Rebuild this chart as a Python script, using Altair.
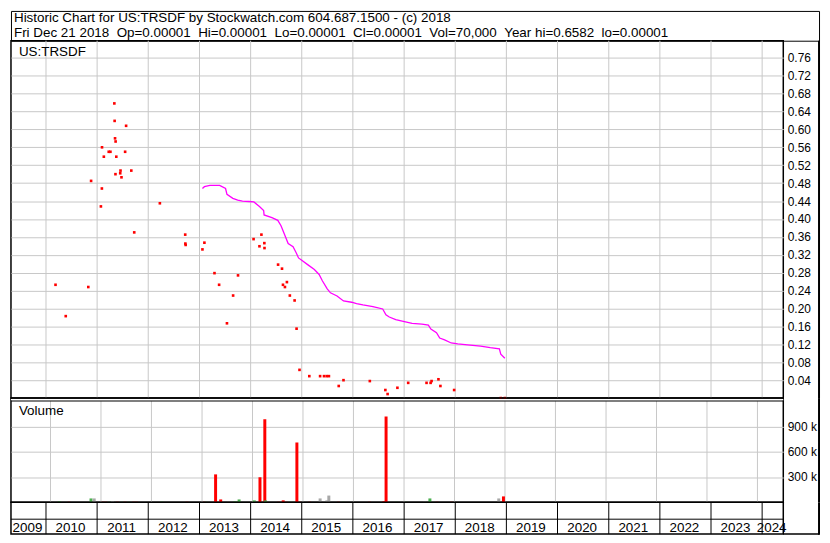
import altair as alt
import pandas as pd
from datetime import date

# ---------------- data ----------------
header_line1 = "Historic Chart for US:TRSDF by Stockwatch.com 604.687.1500 - (c) 2018"
header_fields = ["Fri Dec 21 2018", "Op=0.00001", "Hi=0.00001", "Lo=0.00001",
                 "Cl=0.00001", "Vol=70,000", "Year hi=0.6582", "lo=0.00001"]
symbol_label = "US:TRSDF"
volume_label = "Volume"

point_dates = ["2010-03-10", "2010-05-22", "2010-10-30", "2010-11-19", "2011-01-28", "2011-02-04",
               "2011-02-05", "2011-02-18", "2011-03-25", "2011-04-06", "2011-05-04", "2011-05-06",
               "2011-05-09", "2011-05-13", "2011-05-12", "2011-05-18", "2011-06-17", "2011-06-15",
               "2011-06-24", "2011-07-20", "2011-07-27", "2011-09-02", "2011-09-23", "2012-03-24",
               "2012-09-21", "2012-09-22", "2012-09-24", "2013-01-22", "2013-02-05", "2013-04-18",
               "2013-05-21", "2013-07-16", "2013-08-29", "2013-10-03", "2014-01-22", "2014-03-05",
               "2014-03-19", "2014-04-09", "2014-04-10", "2014-07-16", "2014-08-13", "2014-08-20",
               "2014-09-03", "2014-09-17", "2014-10-08", "2014-11-11", "2014-11-25", "2014-12-16",
               "2015-02-24", "2015-05-12", "2015-06-09", "2015-06-28", "2015-07-14", "2015-09-22",
               "2015-10-26", "2016-05-01", "2016-08-20", "2016-09-05", "2016-11-14", "2017-01-30",
               "2017-06-10", "2017-07-09", "2017-07-16", "2017-09-03", "2017-09-17", "2017-12-24",
               "2018-11-22", "2018-12-21"]
point_prices = [0.253, 0.183, 0.248, 0.485, 0.428, 0.468, 0.560, 0.539, 0.550, 0.550, 0.658, 0.619,
                0.580, 0.573, 0.500, 0.539, 0.508, 0.502, 0.493, 0.550, 0.608, 0.508, 0.370, 0.435,
                0.365, 0.345, 0.342, 0.332, 0.347, 0.279, 0.253, 0.167, 0.229, 0.274, 0.355, 0.339,
                0.365, 0.346, 0.335, 0.298, 0.289, 0.253, 0.248, 0.259, 0.229, 0.218, 0.155, 0.063,
                0.049, 0.049, 0.049, 0.049, 0.049, 0.027, 0.040, 0.038, 0.018, 0.009, 0.023, 0.034,
                0.034, 0.034, 0.038, 0.042, 0.027, 0.018, 0.00001, 0.00001]

ma_dates = ["2013-01-22", "2013-02-05", "2013-03-16", "2013-05-25", "2013-07-06", "2013-07-16",
            "2013-08-27", "2013-10-01", "2013-11-04", "2013-12-20", "2014-01-24", "2014-03-05",
            "2014-04-04", "2014-04-07", "2014-06-02", "2014-07-14", "2014-08-06", "2014-08-29",
            "2014-09-26", "2014-10-31", "2014-11-23", "2014-12-09", "2015-01-08", "2015-02-12",
            "2015-04-01", "2015-05-05", "2015-05-28", "2015-07-02", "2015-07-25", "2015-09-10",
            "2015-10-26", "2015-12-23", "2016-01-27", "2016-03-13", "2016-05-23", "2016-08-01",
            "2016-08-24", "2016-09-17", "2016-11-02", "2016-12-18", "2017-02-27", "2017-05-08",
            "2017-06-23", "2017-07-11", "2017-08-20", "2017-09-12", "2017-10-17", "2017-12-03",
            "2018-01-19", "2018-03-30", "2018-07-01", "2018-09-08", "2018-11-12", "2018-11-22",
            "2018-12-21"]
ma_values = [0.468, 0.472, 0.475, 0.475, 0.468, 0.455, 0.446, 0.442, 0.440, 0.439, 0.438, 0.428,
             0.419, 0.409, 0.403, 0.397, 0.385, 0.367, 0.345, 0.338, 0.324, 0.313, 0.306, 0.298,
             0.287, 0.276, 0.262, 0.244, 0.235, 0.228, 0.217, 0.214, 0.211, 0.208, 0.204, 0.199,
             0.186, 0.181, 0.175, 0.172, 0.167, 0.165, 0.163, 0.154, 0.146, 0.134, 0.130, 0.123,
             0.121, 0.119, 0.116, 0.1125, 0.110, 0.098, 0.089]

vol_dates = ["2010-03-06", "2010-05-15", "2010-10-21", "2010-11-13", "2011-01-14", "2011-02-04",
             "2011-03-04", "2011-03-25", "2011-04-29", "2011-06-03", "2011-06-24", "2011-07-22",
             "2011-08-26", "2011-09-16", "2012-03-16", "2012-09-14", "2013-01-17", "2013-01-31",
             "2013-04-09", "2013-05-16", "2013-07-11", "2013-08-27", "2013-09-26", "2014-01-13",
             "2014-02-24", "2014-03-31", "2014-04-04", "2014-07-09", "2014-08-11", "2014-09-03",
             "2014-09-24", "2014-10-22", "2014-11-18", "2014-12-09", "2015-02-18", "2015-05-05",
             "2015-05-31", "2015-06-23", "2015-07-07", "2015-09-15", "2015-10-20", "2016-04-26",
             "2016-08-08", "2016-08-24", "2016-11-07", "2017-01-16", "2017-05-28", "2017-07-07",
             "2017-08-27", "2017-12-10", "2018-11-17", "2018-12-21"]
vol_values = [12000, 6000, 46000, 46000, 6000, 6000, 6000, 12000, 6000, 6000, 6000, 6000,
              6000, 6000, 8000, 6000, 6000, 6000, 331000, 34000, 6000, 12000, 34000, 23000,
              297000, 983000, 23000, 6000, 23000, 6000, 6000, 6000, 709000, 6000, 6000, 46000,
              12000, 23000, 80000, 6000, 6000, 6000, 12000, 1017000, 6000, 6000, 6000, 46000,
              6000, 6000, 46000, 70000]
vol_dirs = ["up", "down", "up", "flat", "down", "down", "up", "flat", "down", "up", "down", "up",
            "down", "down", "up", "down", "down", "up", "down", "down", "flat", "up", "up", "up",
            "down", "down", "up", "down", "down", "down", "up", "up", "down", "down", "down", "flat",
            "flat", "flat", "flat", "down", "up", "down", "down", "down", "up", "up", "flat", "up",
            "down", "down", "flat", "down"]

price_ticks = [0.04, 0.08, 0.12, 0.16, 0.20, 0.24, 0.28, 0.32, 0.36, 0.40, 0.44, 0.48, 0.52,
               0.56, 0.60, 0.64, 0.68, 0.72, 0.76]
vol_ticks = [300000, 600000, 900000]
years = list(range(2009, 2025))
x_start = date(2009, 4, 26)
x_end = date(2024, 5, 31)

# ---------------- layout / style ----------------
FONT = "Liberation Sans"
W = 778          # plot width
W_TOT = 814      # outer frame x
H_HEAD = 30
H_PRICE = 360
STRIP = 3        # double line between price and volume panels
H_VOL = 105      # includes the strip
H_BOT = 32
ROW_SPLIT = 17
GRID = "#c8c8c8"
VOL_MAX = 1200000 * H_VOL / (H_VOL - STRIP)

x_scale = alt.Scale(domain=[alt.DateTime(year=x_start.year, month=x_start.month, date=x_start.day),
                            alt.DateTime(year=x_end.year, month=x_end.month, date=x_end.day)],
                    nice=False)

one = pd.DataFrame({"a": [0]})
grid_df = pd.DataFrame({"date": [f"{y}-01-01" for y in years[1:]]})


def vgrid(y0, height):
    return alt.Chart(grid_df).mark_rule(color=GRID, strokeWidth=1).encode(
        x=alt.X("date:T", scale=x_scale, axis=None),
        y=alt.value(y0), y2=alt.value(height))


def text_layer(s, x, y, size=13.5):
    return alt.Chart(pd.DataFrame({"t": [s]})).mark_text(
        align="left", baseline="alphabetic", font=FONT, fontSize=size, color="black").encode(
        x=alt.value(x), y=alt.value(y), text="t:N")


def box(x1, x2, y1, y2, color="black"):
    return alt.Chart(one).mark_rect(color=color, opacity=1).encode(
        x=alt.value(x1), x2=alt.value(x2), y=alt.value(y1), y2=alt.value(y2))


# ---------------- header ----------------
header = alt.layer(
    text_layer(header_line1, 3, 11),
    text_layer("\u00a0\u00a0".join(header_fields), 3, 26),
).properties(width=W_TOT, height=H_HEAD,
             view=alt.ViewBackground(stroke="black", strokeWidth=1))

# ---------------- price panel ----------------
pts = pd.DataFrame({"date": point_dates, "price": point_prices})
ma = pd.DataFrame({"date": ma_dates, "price": ma_values})
y_price = alt.Scale(domain=[0, 0.798], nice=False, zero=False)
y_price_axis = alt.Axis(orient="right", values=price_ticks, tickCount=len(price_ticks) + 5,
                        format=".2f", grid=True,
                        gridColor=GRID, ticks=False, domain=False, labelPadding=4,
                        labelOverlap=False, labelFont=FONT, labelFontSize=12,
                        labelColor="black", title=None)

price_pts = alt.Chart(pts).mark_square(size=7, color="#ff0000", opacity=1).encode(
    x=alt.X("date:T", scale=x_scale, axis=None),
    y=alt.Y("price:Q", scale=y_price, axis=y_price_axis),
)
ma_line = alt.Chart(ma).mark_line(color="#ff00ff", strokeWidth=1.3).encode(
    x=alt.X("date:T", scale=x_scale, axis=None),
    y=alt.Y("price:Q", scale=y_price),
)
price = alt.layer(vgrid(0, H_PRICE), price_pts, ma_line, text_layer(symbol_label, 8, 15),
                  box(W_TOT - 1, W_TOT + 1, 0, H_PRICE)).properties(
    width=W, height=H_PRICE,
    view=alt.ViewBackground(stroke="black", strokeWidth=1.5))

# ---------------- volume panel ----------------
vol = pd.DataFrame({"date": vol_dates, "volume": vol_values, "dir": vol_dirs})
bars = alt.Chart(vol).mark_bar(size=3).encode(
    x=alt.X("date:T", scale=x_scale, axis=None),
    y=alt.Y("volume:Q", scale=alt.Scale(domain=[0, VOL_MAX], nice=False),
            axis=alt.Axis(orient="right", values=vol_ticks, tickCount=10,
                          labelExpr="format(datum.value / 1000, 'd') + ' k'",
                          grid=True, gridColor=GRID, ticks=False, domain=False,
                          labelPadding=4, labelOverlap=False, labelFont=FONT, labelFontSize=12,
                          labelColor="black", title=None)),
    color=alt.Color("dir:N", scale=alt.Scale(domain=["up", "down", "flat"],
                                             range=["#4cb050", "#ff0000", "#a8a8a8"]),
                    legend=None),
)
volume = alt.layer(
    vgrid(STRIP, H_VOL), bars,
    box(0, W, 0.8, STRIP - 0.6, color="white"),
    box(0, W, STRIP - 0.6, STRIP + 0.5),
    text_layer(volume_label, 8, 17),
    box(W_TOT - 1, W_TOT + 1, 0, H_VOL),
).properties(width=W, height=H_VOL,
             view=alt.ViewBackground(stroke="black", strokeWidth=1.5))

# ---------------- bottom year rows ----------------
mids = []
for y in years:
    s = max(date(y, 1, 1), x_start)
    e = min(date(y + 1, 1, 1), x_end)
    mids.append((s + (e - s) / 2).isoformat())
lab_df = pd.DataFrame({"mid": mids, "year": [str(y) for y in years]})

seps = alt.Chart(grid_df).mark_rule(color="black", strokeWidth=1).encode(
    x=alt.X("date:T", scale=x_scale, axis=None), y=alt.value(0), y2=alt.value(H_BOT))
row_line = alt.Chart(one).mark_rule(color="black", strokeWidth=1).encode(
    x=alt.value(0), x2=alt.value(W), y=alt.value(ROW_SPLIT))
labels = alt.Chart(lab_df).mark_text(align="center", baseline="alphabetic", font=FONT,
                                     fontSize=13.5, color="black", dx=-1).encode(
    x=alt.X("mid:T", scale=x_scale, axis=None), y=alt.value(29.5), text="year:N")
bottom = alt.layer(
    seps, row_line, labels,
    box(W_TOT - 1, W_TOT + 1, 0, H_BOT + 0.75),
    box(W, W_TOT, H_BOT - 0.75, H_BOT + 0.75),
).properties(width=W, height=H_BOT,
             view=alt.ViewBackground(stroke="black", strokeWidth=1.5))

chart = alt.vconcat(
    header, price, volume, bottom,
    spacing=0,
    bounds="flush",
).properties(padding={"left": 1, "top": 0, "right": 1, "bottom": 1}, background="white")

chart.save("out.html", embed_options={"renderer": "svg", "actions": False})
